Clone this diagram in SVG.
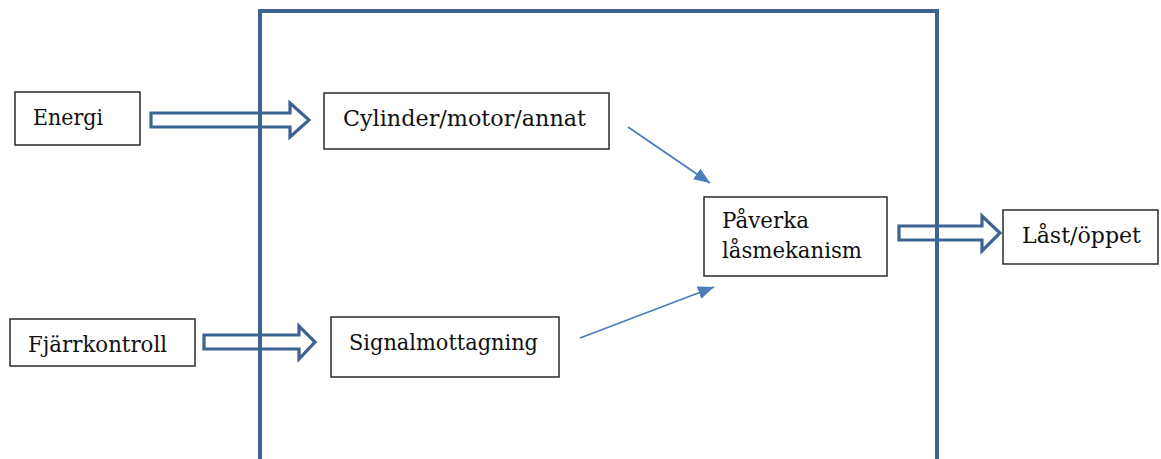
<svg xmlns="http://www.w3.org/2000/svg" width="1161" height="459" viewBox="0 0 1161 459">
  <style>
    .box { fill: #ffffff; stroke: #2b2b2b; stroke-width: 1.5; }
    .lbl { font-family: "DejaVu Serif", "Liberation Serif", serif; font-size: 22px; fill: #111111; }
    .block { fill: #ffffff; stroke: #3d6391; stroke-width: 3.2; stroke-linejoin: miter; }
    .thin { fill: none; stroke: #4a7ebb; stroke-width: 1.8; }
    .frame { fill: none; stroke: #3d6391; stroke-width: 4; }
  </style>
  <defs>
    <marker id="ah" markerUnits="userSpaceOnUse" markerWidth="16" markerHeight="13" refX="16" refY="6.5" orient="auto">
      <path d="M0,0 L16,6.5 L0,13 Z" fill="#4a7ebb"/>
    </marker>
  </defs>
  <rect width="1161" height="459" fill="#ffffff"/>

  <g id="connectors">
    <path class="block" d="M151,113 H290 V103 L309,120 L290,137 V127 H151 Z"/>
    <path class="block" d="M204,335 H299 V326 L315,342 L299,359 V349 H204 Z"/>
    <path class="block" d="M899,226 H982 V216 L1000,233 L982,251 V240 H899 Z"/>
    <line class="thin" x1="628" y1="127" x2="710" y2="183" marker-end="url(#ah)"/>
    <line class="thin" x1="580" y1="338" x2="714" y2="287" marker-end="url(#ah)"/>
  </g>

  <g id="boundary">
    <path class="frame" d="M260,462 V11 H937 V462"/>
  </g>

  <g id="energi">
    <rect class="box" x="15" y="92" width="125" height="53"/>
    <text class="lbl" x="33" y="125" textLength="70" lengthAdjust="spacingAndGlyphs">Energi</text>
  </g>
  <g id="fjarrkontroll">
    <rect class="box" x="10" y="319" width="185" height="47"/>
    <text class="lbl" x="28" y="352" textLength="139" lengthAdjust="spacingAndGlyphs">Fjärrkontroll</text>
  </g>
  <g id="cylinder">
    <rect class="box" x="324" y="93" width="285" height="56"/>
    <text class="lbl" x="343" y="126" textLength="243" lengthAdjust="spacingAndGlyphs">Cylinder/motor/annat</text>
  </g>
  <g id="signal">
    <rect class="box" x="331" y="317" width="228" height="60"/>
    <text class="lbl" x="349" y="350" textLength="189" lengthAdjust="spacingAndGlyphs">Signalmottagning</text>
  </g>
  <g id="paverka">
    <rect class="box" x="704" y="197" width="183" height="79"/>
    <text class="lbl" x="722" y="228" textLength="87" lengthAdjust="spacingAndGlyphs">Påverka</text>
    <text class="lbl" x="722" y="258" textLength="140" lengthAdjust="spacingAndGlyphs">låsmekanism</text>
  </g>
  <g id="last">
    <rect class="box" x="1003" y="210" width="155" height="54"/>
    <text class="lbl" x="1022" y="243" textLength="119" lengthAdjust="spacingAndGlyphs">Låst/öppet</text>
  </g>
</svg>
